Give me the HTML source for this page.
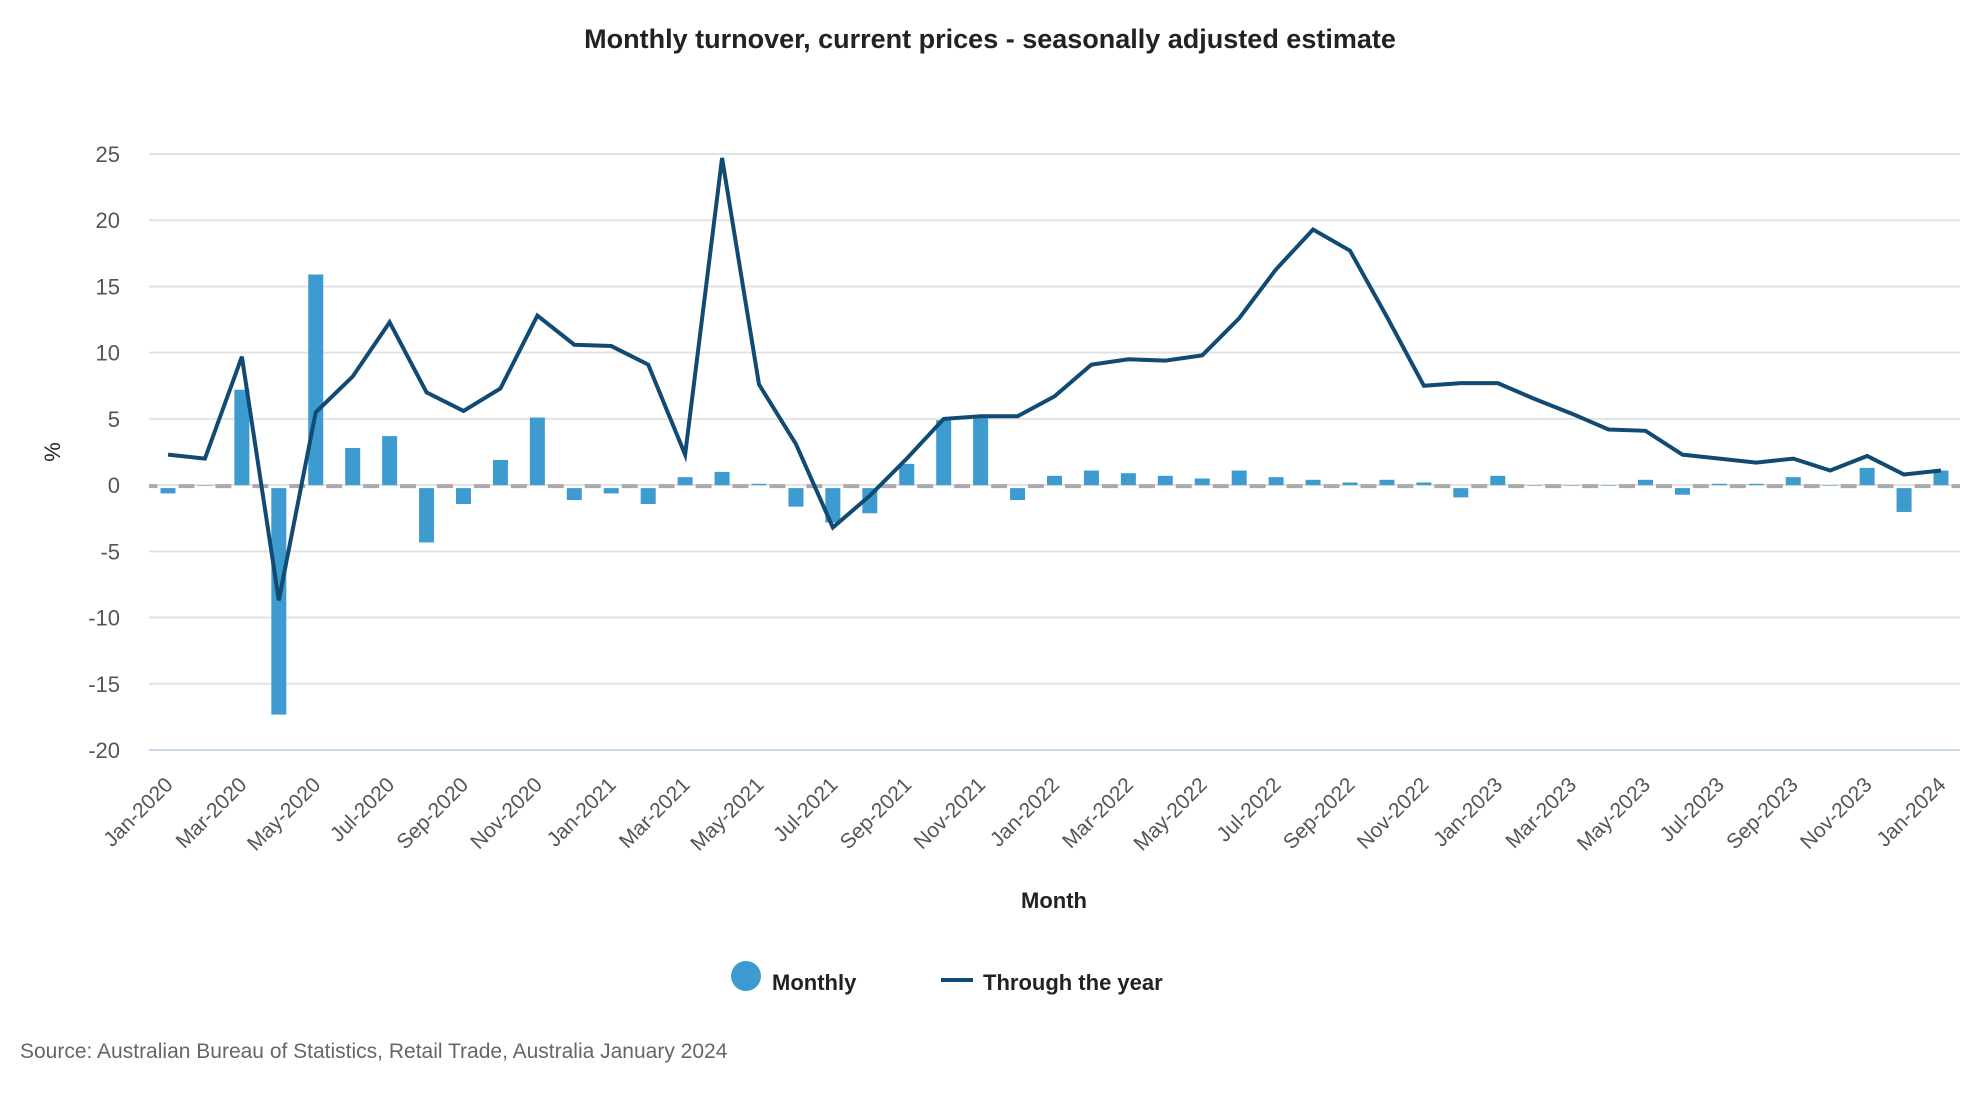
<!DOCTYPE html>
<html><head><meta charset="utf-8"><style>
html,body{margin:0;padding:0;background:#fff;}
svg{display:block;font-family:"Liberation Sans",sans-serif;}
</style></head><body>
<svg id="chart" width="1980" height="1100" viewBox="0 0 1980 1100" xmlns="http://www.w3.org/2000/svg">
<text x="990" y="48" text-anchor="middle" font-size="27" font-weight="bold" fill="#222">Monthly turnover, current prices - seasonally adjusted estimate</text>
<g id="grid"></g><g id="zero"></g><g id="bars"></g><g id="line"></g><g id="yticks"></g><g id="xticks"></g>
<text transform="translate(60,452) rotate(-90)" text-anchor="middle" font-size="22" fill="#222">%</text>
<text x="1054" y="908" text-anchor="middle" font-size="22" font-weight="bold" fill="#222">Month</text>
<g>
<circle cx="746" cy="976" r="15" fill="#3d9bd0"/>
<text x="772" y="990" font-size="22" font-weight="bold" fill="#222">Monthly</text>
<line x1="941" y1="980" x2="973" y2="980" stroke="#114a72" stroke-width="4"/>
<text x="983" y="990" font-size="22" font-weight="bold" fill="#222">Through the year</text>
</g>
<text x="20" y="1058" font-size="21" fill="#666">Source: Australian Bureau of Statistics, Retail Trade, Australia January 2024</text>
</svg>
<script>
const months = ["Jan-2020","Feb-2020","Mar-2020","Apr-2020","May-2020","Jun-2020","Jul-2020","Aug-2020","Sep-2020","Oct-2020","Nov-2020","Dec-2020","Jan-2021","Feb-2021","Mar-2021","Apr-2021","May-2021","Jun-2021","Jul-2021","Aug-2021","Sep-2021","Oct-2021","Nov-2021","Dec-2021","Jan-2022","Feb-2022","Mar-2022","Apr-2022","May-2022","Jun-2022","Jul-2022","Aug-2022","Sep-2022","Oct-2022","Nov-2022","Dec-2022","Jan-2023","Feb-2023","Mar-2023","Apr-2023","May-2023","Jun-2023","Jul-2023","Aug-2023","Sep-2023","Oct-2023","Nov-2023","Dec-2023","Jan-2024"];
const monthly = [-0.4,0.0,7.2,-17.1,15.9,2.8,3.7,-4.1,-1.2,1.9,5.1,-0.9,-0.4,-1.2,0.6,1.0,0.1,-1.4,-2.6,-1.9,1.6,4.9,5.2,-0.9,0.7,1.1,0.9,0.7,0.5,1.1,0.6,0.4,0.2,0.4,0.2,-0.7,0.7,0.0,0.0,0.0,0.4,-0.5,0.1,0.1,0.6,0.0,1.3,-1.8,1.1];
const throughYear = [2.3,2.0,9.7,-8.7,5.5,8.2,12.3,7.0,5.6,7.3,12.8,10.6,10.5,9.1,2.3,24.7,7.6,3.1,-3.2,-0.8,2.0,5.0,5.2,5.2,6.7,9.1,9.5,9.4,9.8,12.6,16.3,19.3,17.7,12.7,7.5,7.7,7.7,6.5,5.4,4.2,4.1,2.3,2.0,1.7,2.0,1.1,2.2,0.8,1.1];
const yTicks = [25,20,15,10,5,0,-5,-10,-15,-20];

const NS="http://www.w3.org/2000/svg";
const X0=168, X1=1941, PL=149, PR=1960, Y25=154, YM20=750;
const xs=i=>X0+(X1-X0)*i/(months.length-1);
const ys=v=>Y25+(25-v)*(YM20-Y25)/45;
function mk(t,a,p){const e=document.createElementNS(NS,t);for(const k in a)e.setAttribute(k,a[k]);p.appendChild(e);return e;}
const grid=document.getElementById('grid'),yt=document.getElementById('yticks');
yTicks.forEach(v=>{
  const l=mk('line',{x1:PL,x2:PR,y1:ys(v),y2:ys(v),stroke:v===-20?'#c9d6ea':'#e3e3e3','stroke-width':2},grid);
  
  
  const t=mk('text',{x:120,y:ys(v)+8,'text-anchor':'end','font-size':22,fill:'#555'},yt);
  t.textContent=v;
  
  
});
const bw=15, zg=document.getElementById('zero');
for(let i=0;i<=months.length;i++){
  const a=i===0?PL:xs(i-1)+bw/2+3, b=i===months.length?PR:xs(i)-bw/2-3;
  if(b>a){const z=mk('line',{x1:a,x2:b,y1:ys(0)+1,y2:ys(0)+1,stroke:'#aaa','stroke-width':4},zg);
  
  }
}
const bg=document.getElementById('bars');
monthly.forEach((v,i)=>{
  const y0=ys(0),y1=ys(v);
  const r=mk('rect',{x:xs(i)-bw/2,y:Math.min(y0,y1)+(v<0?3:0),width:bw,height:Math.max(Math.abs(y1-y0),0.5),fill:'#3d9bd0'},bg);
  
  
});
const p=mk('polyline',{points:throughYear.map((v,i)=>xs(i)+','+ys(v)).join(' '),fill:'none',stroke:'#114a72','stroke-width':4,'stroke-linejoin':'miter'},document.getElementById('line'));


const xt=document.getElementById('xticks');
months.forEach((m,i)=>{
  if(i%2)return;
  const x=xs(i)+6,y=786;
  const t=mk('text',{x:x,y:y,'text-anchor':'end','font-size':21,fill:'#555',transform:`rotate(-45 ${x} ${y})`},xt);
  t.textContent=m;
  
  
});
</script>
</body></html>
